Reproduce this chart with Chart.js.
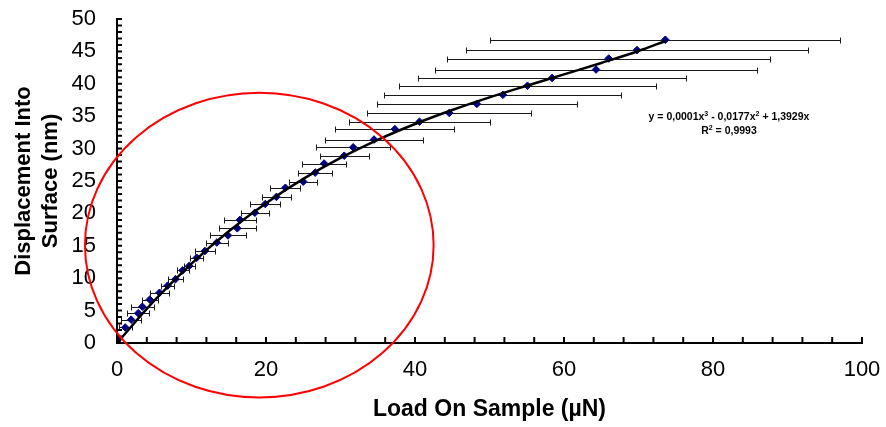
<!DOCTYPE html>
<html>
<head>
<meta charset="utf-8">
<script src="https://cdn.jsdelivr.net/npm/chart.js@4/dist/chart.umd.min.js"></script>
<style>
  html, body { margin: 0; padding: 0; background: #fff; }
  #wrap { position: relative; width: 886px; height: 427px; }
  #eq {
    position: absolute; left: 629px; top: 109px; width: 200px;
    text-align: center; font: bold 10.5px "Liberation Sans", Arial, sans-serif;
    line-height: 14px; color: #000;
  }
  #eq sup { font-size: 7px; line-height: 0; vertical-align: 4px; }
</style>
</head>
<body>
<div id="wrap">
  <canvas id="c" width="886" height="427"></canvas>
  <div id="eq">y = 0,0001x<sup>3</sup> - 0,0177x<sup>2</sup> + 1,3929x<br>R<sup>2</sup> = 0,9993</div>
</div>
<script>
// measured load / displacement points, with horizontal error (half width, µN)
const loadX = [0, 0.1, 1.1, 1.9, 2.85, 3.4, 4.4, 5.7, 6.8, 7.85, 8.8, 9.7, 10.7, 11.8, 13.4,
  14.9, 16.15, 16.5, 18.5, 19.9, 21.4, 22.6, 25.0, 26.6, 27.8, 30.5, 31.7, 34.5, 37.3,
  40.6, 44.6, 48.3, 51.8, 55.1, 58.4, 64.3, 66.0, 69.8, 73.6];
const dispY = [0, 0.5, 2.4, 3.6, 4.6, 5.6, 6.7, 7.75, 8.85, 9.85, 11.2, 11.9, 13.15, 14.2, 15.5,
  16.6, 17.7, 19.0, 20.1, 21.45, 22.55, 23.95, 24.9, 26.3, 27.7, 28.9, 30.2, 31.4, 33.0,
  34.15, 35.5, 36.9, 38.3, 39.7, 40.9, 42.2, 43.9, 45.2, 46.8];
const loadErr = [0, 0.3, 0.85, 1.35, 1.45, 1.5, 1.1, 1.3, 0.9, 1.05, 0.8, 0.75, 0.9, 1.35, 1.5,
  2.4, 2.5, 2.2, 1.9, 2.0, 2.0, 2.0, 1.9, 2.3, 3.0, 3.3, 5.0, 6.6, 8.0,
  9.5, 11.0, 13.4, 15.9, 17.3, 18.0, 21.6, 21.7, 23.0, 23.5];

// polynomial trendline
const trendX = [0, 5, 10, 15, 20, 25, 30, 35, 40, 45, 50, 55, 60, 65, 70, 73.6];
const trendY = [0, 6.53, 12.26, 17.25, 21.58, 25.32, 28.56, 31.36, 33.8, 35.95, 37.9, 39.7, 41.45, 43.22, 45.07, 46.6];

// red hand-drawn circle annotation (data units)
const ring = { x: 19.1, y: 15.1, rx: 23.4, ry: 23.5 };

const FONT = '"Liberation Sans", Arial, sans-serif';

const errorBars = {
  id: 'errorBars',
  beforeDatasetsDraw(chart) {
    const { ctx, scales: { x, y } } = chart;
    ctx.save();
    ctx.strokeStyle = '#1a1a1a';
    ctx.lineWidth = 1;
    loadX.forEach((v, i) => {
      if (!loadErr[i]) return;
      const py = Math.round(y.getPixelForValue(dispY[i])) + 0.5;
      const x1 = Math.round(x.getPixelForValue(v - loadErr[i])) + 0.5;
      const x2 = Math.round(x.getPixelForValue(v + loadErr[i])) + 0.5;
      ctx.beginPath();
      ctx.moveTo(x1, py); ctx.lineTo(x2, py);
      ctx.moveTo(x1, py - 3); ctx.lineTo(x1, py + 3);
      ctx.moveTo(x2, py - 3); ctx.lineTo(x2, py + 3);
      ctx.stroke();
    });
    ctx.restore();
  }
};

const extras = {
  id: 'extras',
  afterDraw(chart) {
    const { ctx, scales: { x, y } } = chart;
    ctx.save();
    // inside tick marks
    ctx.strokeStyle = '#000';
    ctx.lineWidth = 2;
    ctx.beginPath();
    for (let v = 0; v <= 50; v++) {
      const py = y.getPixelForValue(v);
      ctx.moveTo(x.left, py); ctx.lineTo(x.left + 5, py);
    }
    for (let v = 0; v <= 100; v += 4) {
      const px = x.getPixelForValue(v);
      ctx.moveTo(px, y.bottom); ctx.lineTo(px, y.bottom - 6);
    }
    ctx.stroke();
    // red ellipse
    const cx = x.getPixelForValue(ring.x), cy = y.getPixelForValue(ring.y);
    const rx = x.getPixelForValue(ring.x + ring.rx) - cx;
    const ry = cy - y.getPixelForValue(ring.y + ring.ry);
    ctx.strokeStyle = '#ff0000';
    ctx.lineWidth = 2;
    ctx.beginPath();
    ctx.ellipse(cx, cy, rx, ry, 0, 0, Math.PI * 2);
    ctx.stroke();
    ctx.restore();
  }
};

new Chart(document.getElementById('c'), {
  type: 'scatter',
  data: {
    datasets: [
      {
        type: 'line',
        data: trendX.map((v, i) => ({ x: v, y: trendY[i] })),
        borderColor: '#000', borderWidth: 2.5, pointRadius: 0,
        tension: 0.4, cubicInterpolationMode: 'monotone', fill: false
      },
      {
        data: loadX.map((v, i) => ({ x: v, y: dispY[i] })),
        pointStyle: 'rectRot', pointRadius: 3.8,
        backgroundColor: '#000080', borderColor: '#000080', borderWidth: 1
      }
    ]
  },
  options: {
    responsive: false, animation: false,
    layout: { padding: { left: 9, right: 24, top: 19, bottom: 4 } },
    plugins: { legend: { display: false }, tooltip: { enabled: false } },
    scales: {
      x: {
        type: 'linear', min: 0, max: 100,
        afterFit: s => { s.height = 80; s.paddingLeft = 0; s.paddingRight = 0; },
        grid: { display: false },
        border: { display: true, color: '#000', width: 2 },
        ticks: { stepSize: 20, padding: 6, color: '#000', font: { family: FONT, size: 22 } },
        title: { display: true, text: 'Load On Sample (µN)', color: '#000',
          font: { family: FONT, size: 23, weight: 'bold' }, padding: { top: 0, bottom: 0 } }
      },
      y: {
        type: 'linear', min: 0, max: 50,
        afterFit: s => { s.width = 108; s.paddingTop = 0; s.paddingBottom = 0; },
        grid: { display: false },
        border: { display: true, color: '#000', width: 2 },
        ticks: { stepSize: 5, padding: 13, color: '#000', font: { family: FONT, size: 22 } },
        title: { display: true, text: ['Displacement Into', 'Surface (nm)'], color: '#000',
          font: { family: FONT, size: 22, weight: 'bold', lineHeight: 1.25 }, padding: 1 }
      }
    }
  },
  plugins: [errorBars, extras]
});
</script>
</body>
</html>
